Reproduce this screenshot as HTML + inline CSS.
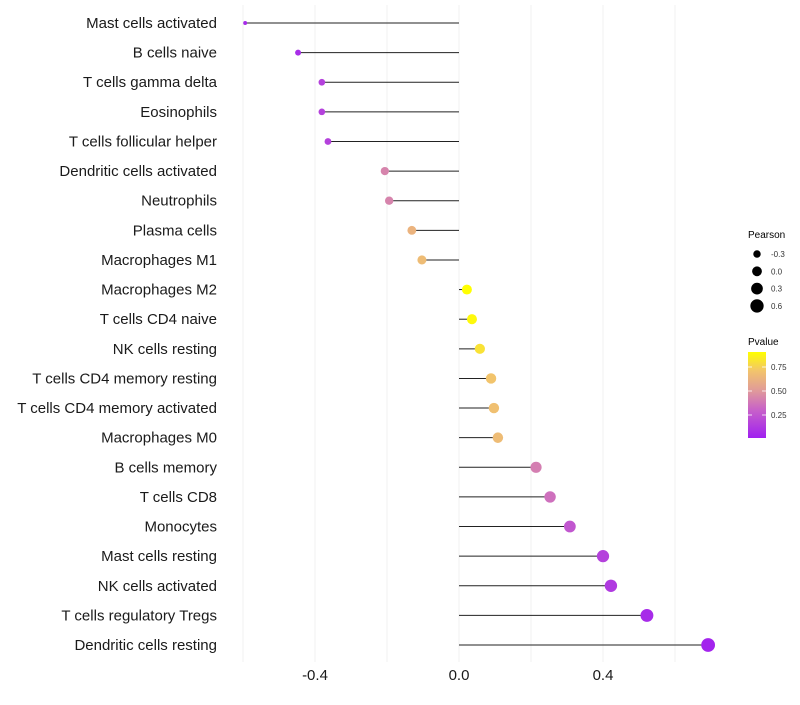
<!DOCTYPE html>
<html><head><meta charset="utf-8"><style>
body{margin:0;background:#fff;}
svg{font-family:"Liberation Sans",sans-serif;}
</style></head><body>
<svg id="chart" width="800" height="700" xmlns="http://www.w3.org/2000/svg">
<g id="grid"></g><g id="marks"></g><g id="ylabels"></g><g id="xticks"></g>
<g id="legend">
 <text x="748" y="238" font-size="10">Pearson</text>
 <g id="sizeLegend"></g>
 <text x="748" y="345" font-size="10">Pvalue</text>
 <defs><linearGradient id="pg" x1="0" y1="1" x2="0" y2="0">
  <stop offset="0" stop-color="#a020f0"/><stop offset="0.33" stop-color="#c862c8"/>
  <stop offset="0.55" stop-color="#e09a9a"/><stop offset="0.78" stop-color="#f2c46c"/>
  <stop offset="1" stop-color="#ffff00"/></linearGradient></defs>
 <rect x="748" y="352" width="18" height="86" fill="url(#pg)"/>
 <g id="colorTicks"></g>
</g>
</svg>
<script>
const categories=["Mast cells activated","B cells naive","T cells gamma delta","Eosinophils","T cells follicular helper","Dendritic cells activated","Neutrophils","Plasma cells","Macrophages M1","Macrophages M2","T cells CD4 naive","NK cells resting","T cells CD4 memory resting","T cells CD4 memory activated","Macrophages M0","B cells memory","T cells CD8","Monocytes","Mast cells resting","NK cells activated","T cells regulatory  Tregs","Dendritic cells resting"];
const pearson=[-0.594,-0.447,-0.381,-0.381,-0.364,-0.206,-0.194,-0.131,-0.103,0.022,0.036,0.058,0.089,0.097,0.108,0.214,0.253,0.308,0.4,0.422,0.522,0.692];
const pvalues=[0.05,0.06,0.15,0.15,0.15,0.42,0.42,0.62,0.66,0.9,0.88,0.8,0.7,0.68,0.66,0.4,0.35,0.25,0.15,0.12,0.05,0.02];
const xTicks=[-0.4,0.0,0.4];
const xTickLabels=["-0.4","0.0","0.4"];
const xGrid=[-0.6,-0.4,-0.2,0,0.2,0.4,0.6];
const sizeLegendVals=[-0.3,0.0,0.3,0.6];
const sizeLegendLabels=["-0.3","0.0","0.3","0.6"];
const colorTickVals=[0.25,0.5,0.75];
const colorTickLabels=["0.25","0.50","0.75"];

const NS="http://www.w3.org/2000/svg";
const X=v=>459+v*360;
const Y=i=>23+i*29.62;
const R=v=>Math.sqrt(Math.max(2,24+34*v));
const stops=[[0,[160,32,240]],[0.3,[200,98,200]],[0.5,[224,154,154]],[0.7,[242,196,108]],[0.9,[255,255,0]]];
function col(p){p=Math.min(0.9,Math.max(0,p));for(let k=1;k<stops.length;k++){if(p<=stops[k][0]){const a=stops[k-1],b=stops[k],t=(p-a[0])/(b[0]-a[0]);return "rgb("+a[1].map((c,j)=>Math.round(c+(b[1][j]-c)*t)).join(",")+")";}}return "rgb(255,255,0)";}
function mk(t,at,parent){const e=document.createElementNS(NS,t);for(const k in at)e.setAttribute(k,at[k]);parent.appendChild(e);return e;}
const grid=document.getElementById('grid'),marks=document.getElementById('marks'),yl=document.getElementById('ylabels'),xt=document.getElementById('xticks');
xGrid.forEach(v=>{const l=mk('line',{x1:X(v),x2:X(v),y1:5,y2:662,stroke:'#f0f0f0','stroke-width':1},grid);

});
categories.forEach((c,i)=>{
 const t=mk('text',{x:217,y:Y(i)+5,'text-anchor':'end','font-size':15,fill:'#1a1a1a'},yl);t.textContent=c;
 
 
 const s=mk('line',{x1:X(0),x2:X(pearson[i]),y1:Y(i),y2:Y(i),stroke:'#222','stroke-width':1},marks);
 
 
 const d=mk('circle',{cx:X(pearson[i]),cy:Y(i),r:R(pearson[i]),fill:col(pvalues[i])},marks);
 
 
});
xTicks.forEach((v,i)=>{const t=mk('text',{x:X(v),y:680,'text-anchor':'middle','font-size':15,fill:'#1a1a1a'},xt);t.textContent=xTickLabels[i];
 
 });
const sl=document.getElementById('sizeLegend');
sizeLegendVals.forEach((v,i)=>{const y=254+i*17.3;
 const c=mk('circle',{cx:757,cy:y,r:R(v),fill:'#000'},sl);
 
 
 const t=mk('text',{x:771,y:y+3,'font-size':8,fill:'#333'},sl);t.textContent=sizeLegendLabels[i];
 
 });
const ct=document.getElementById('colorTicks');
colorTickVals.forEach((v,i)=>{const y=439-v*96;
 mk('line',{x1:748,x2:752,y1:y,y2:y,stroke:'#fff','stroke-width':0.8},ct);
 mk('line',{x1:762,x2:766,y1:y,y2:y,stroke:'#fff','stroke-width':0.8},ct);
 const t=mk('text',{x:771,y:y+3,'font-size':8,fill:'#333'},ct);t.textContent=colorTickLabels[i];
 
 });
</script>
</body></html>
